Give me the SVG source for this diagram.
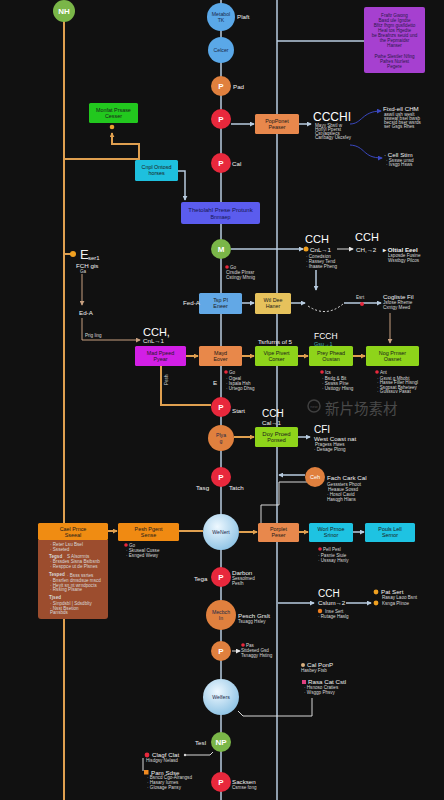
<svg xmlns="http://www.w3.org/2000/svg" width="444" height="800" viewBox="0 0 444 800">
<defs>
<marker id="ab" viewBox="0 0 6 6" refX="5" refY="3" markerWidth="5" markerHeight="5" markerUnits="userSpaceOnUse" orient="auto"><path d="M0,0 L6,3 L0,6 z" fill="#b8cce0"/></marker>
<marker id="ao" viewBox="0 0 6 6" refX="5" refY="3" markerWidth="5" markerHeight="5" markerUnits="userSpaceOnUse" orient="auto"><path d="M0,0 L6,3 L0,6 z" fill="#e0a050"/></marker>
<marker id="at" viewBox="0 0 6 6" refX="5" refY="3" markerWidth="5" markerHeight="5" markerUnits="userSpaceOnUse" orient="auto"><path d="M0,0 L6,3 L0,6 z" fill="#c8a080"/></marker>
<marker id="aw" viewBox="0 0 6 6" refX="5" refY="3" markerWidth="5" markerHeight="5" markerUnits="userSpaceOnUse" orient="auto"><path d="M0,0 L6,3 L0,6 z" fill="#e8e8e8"/></marker>
<marker id="an" viewBox="0 0 6 6" refX="5" refY="3" markerWidth="5" markerHeight="5" markerUnits="userSpaceOnUse" orient="auto"><path d="M0,0 L6,3 L0,6 z" fill="#3a48c0"/></marker>
<radialGradient id="gc" cx="40%" cy="35%" r="70%"><stop offset="0" stop-color="#eef8ff"/><stop offset="1" stop-color="#8cc2e4"/></radialGradient>
</defs>
<style>
.t{font-family:"Liberation Sans",Arial,sans-serif}
.lo{stroke:#e0a050;stroke-width:2;fill:none}
.lb{stroke:#b8cce0;stroke-width:1.5;fill:none}
.lt{stroke:#c8a080;stroke-width:1;fill:none}
.lw{stroke:#d8d8d8;stroke-width:1;fill:none}
.s{font-family:"Liberation Sans",Arial,sans-serif;font-size:4.6px;fill:#d8d8d8}
.l{font-family:"Liberation Sans",Arial,sans-serif;font-size:6.2px;fill:#f2f2f2}
.big{font-family:"Liberation Sans",Arial,sans-serif;font-size:11px;fill:#fff}
.bx{font-family:"Liberation Sans",Arial,sans-serif;font-size:5.4px;fill:#1a1a1a;text-anchor:middle}
.ct{font-family:"Liberation Sans",Arial,sans-serif;font-size:8px;fill:#fff;text-anchor:middle;font-weight:bold}
.cd{font-family:"Liberation Sans",Arial,sans-serif;font-size:5.2px;fill:#1a2a4a;text-anchor:middle}
</style>
<rect width="444" height="800" fill="#111111"/>

<g id="connectors">
<line class="lo" x1="64" y1="11" x2="64" y2="800"/>
<line class="lb" x1="221" y1="0" x2="221" y2="800"/>
<line class="lb" x1="277" y1="0" x2="277" y2="800"/>
<line class="lb" x1="277" y1="41" x2="364" y2="41"/>
<path class="lo" d="M64,159 H139 V144 H112 V133" marker-end="url(#ao)"/>
<path class="lb" d="M178,171 H185 V200" marker-end="url(#ab)"/>
<path class="lb" d="M231,124 H254" marker-end="url(#ab)"/>
<path class="lb" d="M299,124 H311" marker-end="url(#ab)"/>
<path d="M350,124 C362,124 362,111 381,111" stroke="#3a48c0" stroke-width="1" fill="none" marker-end="url(#an)"/>
<path d="M350,145 C366,146 362,158 382,158" stroke="#3a48c0" stroke-width="1" fill="none" marker-end="url(#an)"/>
<path class="lb" d="M231,249 H303" marker-end="url(#ab)"/>
<path class="lw" d="M337,249 H353" marker-end="url(#aw)"/>
<line class="lo" x1="64" y1="254" x2="72" y2="254"/>
<path class="lt" d="M82,274 V305" marker-end="url(#at)"/>
<path class="lt" d="M82,318 V340 H140" marker-end="url(#at)"/>
<path class="lo" d="M186,356 H198" marker-end="url(#ao)"/>
<path class="lo" d="M242,356 H254" marker-end="url(#ao)"/>
<path class="lo" d="M298,356 H308" marker-end="url(#ao)"/>
<path class="lo" d="M353,356 H365" marker-end="url(#ao)"/>
<path class="lb" d="M242,303 H254" marker-end="url(#ab)"/>
<path class="lb" d="M291,303 H305" marker-end="url(#ab)"/>
<path d="M308,306 Q326,318 343,304" stroke="#e0e0e0" stroke-width="1" stroke-dasharray="2,2" fill="none"/>
<path class="lb" d="M344,303 H381" marker-end="url(#ab)"/>
<circle cx="362" cy="304" r="2" fill="#e8283c"/>
<path class="lb" d="M316,270 V290" marker-end="url(#ab)"/>
<path class="lt" d="M390,313 V343" marker-end="url(#at)"/>
<path class="lo" d="M161,366 V405 H211"/>
<path class="lo" d="M234,437 H254" marker-end="url(#ao)"/>
<path class="lb" d="M298,437 H310" marker-end="url(#ab)"/>
<path class="lb" d="M305,475 H279" marker-end="url(#ab)"/>
<path class="lw" d="M261,523 V505 H279 V482 H307" stroke-width="1.3"/>
<path class="lo" d="M108,531 H117" marker-end="url(#ao)"/>
<path class="lo" d="M179,531 H203"/>
<path class="lo" d="M239,532 H257" marker-end="url(#ao)"/>
<path class="lo" d="M299,532 H308" marker-end="url(#ao)"/>
<path class="lb" d="M353,532 H364" marker-end="url(#ab)"/>
<path class="lb" d="M278,603 H314" marker-end="url(#ab)"/>
<path class="lb" d="M346,603 H371" marker-end="url(#ab)"/>
<path class="lw" d="M232,651 H240" marker-end="url(#aw)"/>
<path class="lw" d="M238,711 L243,716 H312 V698"/>
<path class="lw" d="M213,752 L210,755 H185"/>
<circle cx="185" cy="755" r="1.2" fill="#d8d8d8"/>
<line class="lw" x1="143" y1="758" x2="143" y2="771"/>
</g>

<g id="watermark" opacity="0.55">
<circle cx="314" cy="406" r="6" fill="none" stroke="#666" stroke-width="1.5"/>
<text x="314" y="407.5" font-family="Liberation Sans, sans-serif" font-size="4" fill="#777" text-anchor="middle">new</text>
<text x="325" y="413.5" font-family="'Noto Sans CJK SC', sans-serif" font-size="14.5" fill="#777">新片场素材</text>
</g>

<g id="nh"><circle cx="64" cy="11" r="11" fill="#7ab648"/><text class="ct" x="64" y="14">NH</text></g>

<g id="metabol"><circle cx="221" cy="17" r="14" fill="#5aa8e8"/><text class="cd" x="221" y="16">Metabol</text><text class="cd" x="221" y="22">TK</text><text class="l" x="237" y="19">Plaft</text></g>
<g id="celcer"><circle cx="221" cy="50" r="13" fill="#5aa8e8"/><text class="cd" x="221" y="52" font-size="6.5">Celcer</text></g>
<g id="p1"><circle cx="221" cy="86" r="10" fill="#e0803e"/><text class="ct" x="221" y="89">P</text><text class="l" x="233" y="89">Pad</text></g>
<g id="p2"><circle cx="221" cy="119" r="10" fill="#e8283c"/><text class="ct" x="221" y="122">P</text></g>
<g id="p3"><circle cx="221" cy="163" r="10" fill="#e8283c"/><text class="ct" x="221" y="166">P</text><text class="l" x="232" y="166">Cal</text></g>

<g id="purple"><rect x="364" y="7" width="61" height="66" rx="2" fill="#a640d0"/>
<g class="bx" style="font-size:4.6px;fill:#2a1a4a">
<text x="394.5" y="17">Fraftr Gwong</text><text x="394.5" y="22">Basd ule Igndte</text><text x="394.5" y="27">Bfitz fhgm gusfldetto</text><text x="394.5" y="32">Heal tos Hgedte</text><text x="394.5" y="37">be Breafnzs seuid und</text><text x="394.5" y="42">the Pepmaidsr</text><text x="394.5" y="47">Hanser</text><text x="394.5" y="58">Pwhe Slestler Nfing</text><text x="394.5" y="63">Pafres Nurlest</text><text x="394.5" y="68">Pegere</text></g></g>

<g id="monfat"><rect x="89" y="103" width="49" height="20" rx="1.5" fill="#22c81e"/><text class="bx" x="113.5" y="112">Monfat Prsase</text><text class="bx" x="113.5" y="118">Cesser</text><circle cx="112" cy="127" r="2.3" fill="#e8a030"/></g>

<g id="popponet"><rect x="255" y="114" width="44" height="20" rx="1.5" fill="#e8884c"/><text class="bx" x="277" y="123">PopPonet</text><text class="bx" x="277" y="129">Peaser</text></g>
<g id="ccchi"><text class="t" x="313" y="121" font-size="12" fill="#fff">CCCHI</text><text class="s" x="315" y="127">Mayy Sbstl w</text><text class="s" x="315" y="131">Hoflyl Pperst</text><text class="s" x="315" y="135">Cstyaqsiecs</text><text class="s" x="315" y="139">Canbagy Ukcsfey</text></g>
<g id="fixd"><text class="l" x="383" y="111" font-size="6.5">Fixd-ell CHM</text><text class="s" x="384" y="116">aswil ush weslt</text><text class="s" x="384" y="120">ssweaf bsel bwsb</text><text class="s" x="384" y="124">becsid bser wsrds</text><text class="s" x="384" y="128">ser Gsgs Rhes</text></g>
<g id="cellstim"><text class="l" x="384" y="157" font-size="7">· Cell Stim</text><text class="s" x="386" y="162">· Ssswe unsd</text><text class="s" x="386" y="166">· Ivsgp Hsws</text></g>

<g id="cnpl"><rect x="135" y="160" width="43" height="21" rx="1.5" fill="#1ec0de"/><text class="bx" x="156.5" y="169">Cnpl Ontosd</text><text class="bx" x="156.5" y="175">horses</text></g>
<g id="thetolahl"><rect x="181" y="202" width="79" height="22" rx="2" fill="#5b5cee"/><text class="bx" x="220.5" y="212" style="font-size:6px;fill:#161650">Thetolahl Prese Protunk</text><text class="bx" x="220.5" y="219" style="fill:#161650">Bnmaep</text></g>

<g id="m"><circle cx="221" cy="249" r="10" fill="#7ab648"/><text class="ct" x="221" y="252">M</text>
<circle cx="227" cy="267" r="1.8" fill="#e8283c"/><text class="s" x="230" y="269">Go</text><text class="s" x="226" y="274">Cirsdie Plnssr</text><text class="s" x="226" y="279">Cstingy Mhnig</text></g>
<g id="cch1"><text class="big" x="305" y="243">CCH</text><circle cx="306" cy="249" r="2.5" fill="#f0a020"/><text class="l" x="310" y="251.5">CnL→1</text><text class="s" x="306" y="258">· Conedsion</text><text class="s" x="306" y="263">· Rassey Tend</text><text class="s" x="306" y="268">· Ihaase Pheng</text></g>
<g id="cch2"><text class="big" x="355" y="241">CCH</text><text class="l" x="356" y="251.5">CH,→2</text><text class="l" x="383" y="251.5" font-weight="bold">▸ Oltial Eeel</text><text class="s" x="388" y="257">Lsposde Fusine</text><text class="s" x="388" y="262">Wsstbgy Pilcos</text></g>

<g id="eseri"><circle cx="73" cy="254" r="3" fill="#f0a020"/><text class="t" x="80" y="259" font-size="13" fill="#eee">E</text><text class="t" x="88" y="260" font-size="6" fill="#eee">ser1</text><text class="l" x="76" y="268" font-size="5.5">FCH gis</text><text class="s" x="80" y="273">Ga</text></g>
<g id="eda"><text class="l" x="79" y="315" font-size="5.5">Ed-A</text><text class="s" x="85" y="337">Prig ling</text><text class="big" x="143" y="336">CCH,</text><text class="l" x="143" y="343">CnL→1</text></g>

<g id="tsp"><rect x="199" y="293" width="43" height="21" rx="1.5" fill="#62a8e6"/><text class="bx" x="220.5" y="302">Tsp Pl</text><text class="bx" x="220.5" y="308">Eneer</text><text class="l" x="183" y="305" font-size="5.5">Fed-A</text></g>
<g id="wtl"><rect x="255" y="293" width="36" height="21" rx="1.5" fill="#e6c25c"/><text class="bx" x="273" y="302">Wtl Dee</text><text class="bx" x="273" y="308">Haner</text></g>
<g id="cogliste"><text class="s" x="356" y="299" font-size="5.5">Esrt</text><text class="l" x="383" y="299" font-size="6.5">Cogliste Fil</text><text class="s" x="383" y="304">Jsfose Rheme</text><text class="s" x="383" y="309">Cxntgy Meed</text></g>

<g id="mad"><rect x="135" y="346" width="51" height="20" rx="1.5" fill="#d21fe6"/><text class="bx" x="160.5" y="355">Mad Ppeed</text><text class="bx" x="160.5" y="361">Pyear</text><text class="s" x="168" y="385" transform="rotate(-90 168 385)">Pesh</text></g>
<g id="mayd"><rect x="199" y="346" width="43" height="20" rx="1.5" fill="#e8884a"/><text class="bx" x="220.5" y="355">Mayd</text><text class="bx" x="220.5" y="361">Eover</text>
<circle cx="226" cy="372" r="1.8" fill="#e8283c"/><text class="s" x="229" y="374">Go</text><text class="s" x="226" y="380">· Ogeal</text><text class="s" x="226" y="385">· Ispala Hsh</text><text class="s" x="226" y="390">· Urtego Dhsg</text><text class="l" x="213" y="385" font-size="5.5">E</text></g>
<g id="vipe"><rect x="255" y="346" width="43" height="20" rx="1.5" fill="#8ed41a"/><text class="bx" x="276.5" y="355">Vipe Pivert</text><text class="bx" x="276.5" y="361">Corser</text><text class="l" x="258" y="344" font-size="6">Tsrfurns of 5</text></g>
<g id="prey"><rect x="309" y="346" width="44" height="20" rx="1.5" fill="#8ed41a"/><text class="bx" x="331" y="355">Prey Phead</text><text class="bx" x="331" y="361">Oustan</text><text class="t" x="314" y="339" font-size="8.5" fill="#fff">FCCH</text><text class="t" x="314" y="345.5" font-size="5.5" fill="#4aa">Gsu→1</text>
<circle cx="322" cy="372" r="1.8" fill="#e8283c"/><text class="s" x="325" y="374">Ics</text><text class="s" x="322" y="380">· Bsdg &amp; Bit</text><text class="s" x="322" y="385">· Sswss Plne</text><text class="s" x="322" y="390">· Usttogy Hlsng</text></g>
<g id="nog"><rect x="366" y="346" width="53" height="20" rx="1.5" fill="#8ed41a"/><text class="bx" x="392.5" y="355">Nog Prnser</text><text class="bx" x="392.5" y="361">Oasnet</text>
<circle cx="377" cy="372" r="1.8" fill="#e8283c"/><text class="s" x="380" y="374">Ant</text><text class="s" x="377" y="379.5">· Gsvst g Mbobt</text><text class="s" x="377" y="384">· Hasse Filler Hisngl</text><text class="s" x="377" y="388.5">· Ssgpsat Bsheteey</text><text class="s" x="377" y="393">· Gusssuv Pasat</text></g>

<g id="start"><circle cx="221" cy="407" r="10" fill="#e8283c"/><text class="ct" x="221" y="410">P</text><text class="l" x="232" y="413">Start</text></g>
<g id="plya"><circle cx="221" cy="438" r="13" fill="#e0803e"/><text class="cd" x="221" y="437">Plya</text><text class="cd" x="221" y="443">g</text></g>
<g id="doy"><rect x="255" y="427" width="43" height="20" rx="1.5" fill="#8ed41a"/><text class="bx" x="276.5" y="436" style="font-size:6px">Doy Proed</text><text class="bx" x="276.5" y="442">Ponsed</text><text class="t" x="262" y="417" font-size="10" fill="#fff">CCH</text><text class="l" x="262" y="425" font-size="5.5">Cal→1</text></g>
<g id="cfi"><text class="t" x="314" y="433" font-size="10" fill="#fff">CFI</text><text class="l" x="314" y="441" font-size="6.5">West Coast nat</text><text class="s" x="315" y="446">Pragess Hwes</text><text class="s" x="314" y="451">· Desage Plong</text></g>
<g id="ceh"><circle cx="315" cy="477" r="10" fill="#e0803e"/><text class="t" x="315" y="479" font-size="5.5" fill="#fff" text-anchor="middle">Ceh</text><text class="l" x="327" y="480" font-size="6.5">Fach Cark Cal</text><text class="s" x="327" y="486">Gesssters Phoot</text><text class="s" x="328" y="491">Heaaue Sossd</text><text class="s" x="327" y="496">· Hosol Cavid</text><text class="s" x="327" y="501">Hasqgh Hlans</text></g>
<g id="tatch"><circle cx="221" cy="477" r="10" fill="#e8283c"/><text class="ct" x="221" y="480">P</text><text class="l" x="196" y="490">Tasg</text><text class="l" x="229" y="490">Tatch</text></g>

<g id="cael"><path d="M38,540 H108 V616 a3,3 0 0 1 -3,3 H41 a3,3 0 0 1 -3,-3 Z" fill="#9c4d2e"/><rect x="38" y="523" width="70" height="17" rx="1.5" fill="#f08c12"/><text class="bx" x="73" y="530.5">Cael Prnce</text><text class="bx" x="73" y="536.5">Sseeal</text>
<text class="s" x="50" y="546">· Reter Lsu Bsel</text><text class="s" x="50" y="550.5">· Ssseted</text>
<text class="s" x="49" y="558" font-weight="bold" font-size="5">Tegsd</text><text class="s" x="67" y="557.5">S Alsorrnts</text>
<text class="s" x="50" y="563">· Brssdes Sisna Bsibsnb</text><text class="s" x="50" y="568">· Resppce ut de Plsnes</text>
<text class="s" x="49" y="576" font-weight="bold" font-size="5">Tesped</text><text class="s" x="67" y="577">· Bsss ssrtes</text>
<text class="s" x="50" y="582">· Bnsrfen dmsdsue mscd</text><text class="s" x="50" y="586.5">· Heyit sn nt wrndpocts</text><text class="s" x="50" y="591">· Rssing Plsane</text>
<text class="s" x="49" y="599" font-weight="bold" font-size="5">Tjsed</text>
<text class="s" x="50" y="605">· Sinpdsbl | Sdsdblty</text><text class="s" x="50" y="609.5">· Nsst Bsetion</text><text class="s" x="50" y="614">Pansbds</text></g>
<g id="pesh"><rect x="118" y="523" width="61" height="18" rx="1.5" fill="#f08a12"/><text class="bx" x="148.5" y="531">Pesh Pgent</text><text class="bx" x="148.5" y="537">Sense</text>
<circle cx="126" cy="545" r="1.8" fill="#e8283c"/><text class="s" x="129" y="547">Go</text><text class="s" x="126" y="552">· Skuseal Cusse</text><text class="s" x="126" y="557">· Esnged Wewy</text></g>
<g id="wenert"><circle cx="221" cy="532" r="18" fill="url(#gc)"/><text class="cd" x="221" y="534" font-size="6">WeNert</text></g>
<g id="porplet"><rect x="258" y="523" width="41" height="19" rx="1.5" fill="#e8884c"/><text class="bx" x="278.5" y="531">Porplet</text><text class="bx" x="278.5" y="537">Peser</text></g>
<g id="worl"><rect x="309" y="523" width="44" height="19" rx="1.5" fill="#1ec3e2"/><text class="bx" x="331" y="531">Worl Prnoe</text><text class="bx" x="331" y="537">Srinor</text>
<circle cx="320" cy="549" r="1.8" fill="#e8283c"/><text class="s" x="323" y="551">Pell Pesl</text><text class="s" x="318" y="557">· Pasnie Siuie</text><text class="s" x="318" y="562">· Usssay Hsniy</text></g>
<g id="pouls"><rect x="365" y="523" width="50" height="19" rx="1.5" fill="#1ec3e2"/><text class="bx" x="390" y="531">Pouls Lell</text><text class="bx" x="390" y="537">Sernor</text></g>

<g id="darbon"><circle cx="221" cy="577" r="10" fill="#e8283c"/><text class="ct" x="221" y="580">P</text><text class="l" x="194" y="581">Tega</text><text class="l" x="232" y="575" font-size="7">Darbon</text><text class="s" x="232" y="580">Sessolmed</text><text class="s" x="232" y="585">Peslh</text></g>
<g id="mecbch"><circle cx="221" cy="615" r="15" fill="#e0803e"/><text class="cd" x="221" y="614" fill="#2a1a10">Mecbch</text><text class="cd" x="221" y="620">In</text><text class="l" x="238" y="618" font-size="5.5">Pesch Grslt</text><text class="s" x="238" y="623">Tsuagg Hsley</text></g>
<g id="cch3"><text class="t" x="318" y="597" font-size="10" fill="#fff">CCH</text><text class="l" x="318" y="605" font-size="5.5">Cslum→2</text>
<circle cx="320" cy="611" r="2.2" fill="#f08020"/><text class="s" x="325" y="613" font-size="5.2">Inse Sert</text><text class="s" x="318" y="618">· Rutage Haslg</text>
<circle cx="376" cy="592" r="2.4" fill="#f0a020"/><text class="l" x="381" y="594" font-size="5.8">Pat Sert</text><text class="s" x="382" y="599">Rasay Laoo Bsnt</text><circle cx="376" cy="603" r="2.4" fill="#f0a020"/><text class="s" x="382" y="605">Ksnga Plinoe</text></g>
<g id="pas"><circle cx="221" cy="651" r="10" fill="#e0803e"/><text class="ct" x="221" y="654">P</text><circle cx="243" cy="645" r="1.8" fill="#e8283c"/><text class="s" x="246" y="647" font-size="5">Pas</text><text class="s" x="241" y="652">Sttdesed Gsd</text><text class="s" x="241" y="657">Tsnaggy Hsting</text></g>
<g id="calponp"><circle cx="303" cy="665" r="2" fill="#d8b080"/><text class="l" x="307" y="667" font-size="6">Cal PonP</text><text class="s" x="301" y="672">Hasbey Ftsb</text>
<rect x="302" y="680" width="4" height="4" fill="#e04080"/><text class="l" x="308" y="684" font-size="6.5">Rasa Cat Cstl</text><text class="s" x="304" y="689">· Hsnoso Craties</text><text class="s" x="304" y="694">· Wsggp Phsvy</text></g>
<g id="welfers"><circle cx="221" cy="697" r="18" fill="url(#gc)"/><text class="cd" x="221" y="699" font-size="6">Welfers</text></g>
<g id="np"><circle cx="221" cy="742" r="10" fill="#7ab648"/><text class="ct" x="221" y="745">NP</text><text class="l" x="195" y="745">Tesl</text></g>
<g id="clagf"><circle cx="147" cy="755" r="2.4" fill="#e8283c"/><text class="l" x="152" y="757" font-size="6.5">Clagf Clat</text><text class="s" x="146" y="762">Hisdgsy Nelasd</text>
<rect x="144" y="770" width="4.5" height="4.5" fill="#f08a20"/><text class="l" x="151" y="775" font-size="6">Pam Sdse</text><text class="s" x="147" y="779">· Bsncd Cgo-Alrangsd</text><text class="s" x="147" y="784">· Hasary Iurnes</text><text class="s" x="147" y="789">· Glosage Pansy</text></g>
<g id="sacksen"><circle cx="221" cy="782" r="10" fill="#e8283c"/><text class="ct" x="221" y="785">P</text><text class="l" x="232" y="784" font-size="6.5">Sacksen</text><text class="s" x="232" y="789">Csmse fong</text></g>
</svg>
